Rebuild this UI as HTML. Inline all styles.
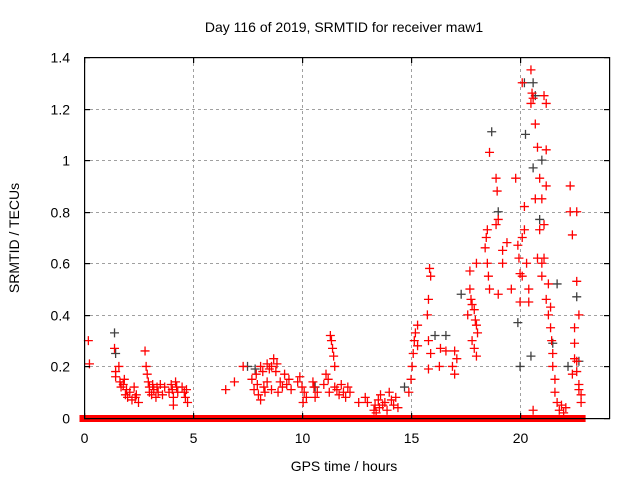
<!DOCTYPE html>
<html><head><meta charset="utf-8"><style>
body{margin:0;background:#fff}
svg text{font-family:"Liberation Sans",sans-serif;font-size:14px;fill:#000}
</style></head><body>
<svg id="c" width="640" height="480">
<g id="marks"></g>
<g id="axes"></g>
</svg>
<script>
const xTicks=[0,5,10,15,20];
const yTicks=[0,0.2,0.4,0.6,0.8,1,1.2,1.4];
const yTickLabels=["0","0.2","0.4","0.6","0.8","1","1.2","1.4"];
const redT=[0.2,0.25,1.4,1.45,1.45,1.6,1.65,1.7,1.8,1.85,1.9,1.95,2.0,2.1,2.2,2.3,2.35,2.4,2.5,
2.8,2.85,2.9,2.95,3.0,3.0,3.1,3.15,3.2,3.3,3.35,3.4,3.5,3.6,3.7,
3.9,4.0,4.05,4.1,4.2,4.25,4.3,4.1,4.5,4.6,4.65,4.7,4.75,6.5,6.9,7.3,
7.7,7.8,7.9,7.95,8.0,8.1,8.1,8.2,8.25,8.3,8.4,8.4,8.5,8.6,8.6,8.7,8.8,8.85,8.9,9.0,9.1,9.2,9.3,9.4,9.5,
9.8,9.9,10.0,10.05,10.1,10.2,10.5,10.55,10.6,10.7,
11.0,11.1,11.2,11.25,11.3,11.35,11.4,11.45,11.5,11.5,11.6,11.7,11.8,11.9,12.0,12.1,12.2,
12.6,12.9,13.0,13.3,13.35,13.4,13.5,13.55,13.6,13.7,13.8,13.9,14.0,14.1,14.2,14.3,14.4,
14.9,15.0,15.05,15.1,15.15,15.2,15.3,15.3,
15.85,15.9,15.8,15.75,15.8,15.9,15.8,16.3,16.35,16.6,17.0,17.1,17.0,16.9,
17.7,17.75,17.8,17.9,17.95,18.0,18.05,17.8,17.9,18.0,17.6,17.7,18.0,
18.4,18.45,18.5,18.55,18.6,18.6,18.5,18.9,18.95,18.9,19.0,19.2,19.4,19.2,19.0,
19.6,19.8,19.9,19.95,20.0,20.0,20.1,20.1,20.2,20.1,20.2,20.3,20.4,20.4,20.5,20.55,20.6,20.5,20.7,20.8,20.7,20.9,21.0,21.0,20.8,21.1,21.2,21.2,21.1,21.3,21.2,21.3,21.4,21.45,21.5,21.5,21.6,21.6,21.7,21.8,21.9,22.0,22.1,21.2,21.4,21.1,20.9,21.0,20.6,
22.3,22.3,22.4,22.5,22.6,22.5,22.6,22.6,22.7,22.7,22.8,22.8,22.4,22.5,22.6,22.7];
const redV=[0.30,0.21,0.27,0.18,0.16,0.2,0.14,0.12,0.13,0.15,0.09,0.11,0.08,0.1,0.07,0.12,0.08,0.09,0.06,
0.26,0.2,0.17,0.14,0.12,0.1,0.09,0.13,0.11,0.08,0.12,0.1,0.13,0.09,0.12,
0.1,0.13,0.11,0.08,0.14,0.12,0.1,0.05,0.12,0.1,0.08,0.11,0.06,0.11,0.14,0.2,
0.15,0.11,0.17,0.13,0.09,0.2,0.07,0.18,0.12,0.1,0.21,0.14,0.19,0.2,0.11,0.23,0.18,0.21,0.1,0.14,0.12,0.17,0.13,0.15,0.11,
0.14,0.16,0.12,0.06,0.1,0.08,0.14,0.12,0.08,0.1,
0.13,0.17,0.15,0.1,0.32,0.3,0.27,0.24,0.2,0.12,0.11,0.09,0.13,0.1,0.08,0.12,0.1,
0.06,0.08,0.06,0.03,0.05,0.02,0.07,0.04,0.09,0.05,0.06,0.03,0.1,0.07,0.05,0.08,0.04,
0.1,0.15,0.2,0.25,0.3,0.33,0.36,0.28,
0.58,0.55,0.46,0.4,0.3,0.25,0.19,0.2,0.27,0.26,0.26,0.23,0.17,0.2,
0.5,0.46,0.44,0.42,0.38,0.36,0.33,0.3,0.27,0.24,0.4,0.57,0.6,
0.66,0.7,0.6,0.55,0.5,1.03,0.73,0.93,0.88,0.75,0.77,0.65,0.68,0.6,0.48,
0.5,0.93,0.67,0.62,0.56,0.45,0.7,0.55,0.73,1.3,0.82,0.6,0.5,0.45,1.35,1.26,1.24,1.22,1.14,1.05,0.85,0.73,0.6,0.55,0.62,1.25,1.22,0.9,0.62,0.52,0.46,0.4,0.35,0.3,0.25,0.2,0.15,0.1,0.06,0.03,0.05,0.02,0.04,1.04,0.43,0.75,0.93,0.85,0.03,
0.9,0.8,0.71,0.35,0.8,0.29,0.22,0.18,0.13,0.11,0.09,0.06,0.17,0.23,0.53,0.4];
const blackT=[1.4,1.45,7.5,7.85,10.6,14.7,16.1,16.6,17.3,18.7,19.0,20.2,20.25,20.6,20.6,20.7,21.0,20.9,22.2,22.7,22.6,19.9,20.0,20.5,21.7,21.5];
const blackV=[0.33,0.25,0.2,0.19,0.12,0.12,0.32,0.32,0.48,1.11,0.8,1.3,1.1,0.97,1.3,1.25,1.0,0.77,0.2,0.22,0.47,0.37,0.2,0.24,0.52,0.29];
const zeroRanges=[[0,3.4],[3.55,5.5],[5.65,6.0],[6.1,6.5],[6.6,7.3],[7.45,9.5],[9.6,9.8],[9.9,10.6],[10.7,15.2],[15.3,16.3],[16.4,17.1],[17.2,18.1],[18.2,19.6],[19.7,20.6],[20.7,21.0],[21.1,21.3],[21.5,22.4],[22.5,22.8]];

const NS="http://www.w3.org/2000/svg";
const svg=document.getElementById('c');
const grp=document.getElementById('marks');
const axes=document.getElementById('axes');
const L=84,R=609,T=57,B=418,XMAX=24.08,YMAX=1.4;
const sx=t=>L+t/XMAX*(R-L), sy=v=>B-v/YMAX*(B-T);
function mk(tag,a,parent){const e=document.createElementNS(NS,tag);for(const k in a)e.setAttribute(k,a[k]);(parent||grp).appendChild(e);return e;}
function blk(x,y,w,h){const r=mk('rect',{x:x,y:y,width:w,height:h,fill:'#000000'},axes);
 
 }
// frame
blk(L,T,R-L+1,1.2);blk(L,B,R-L+1,1.2);blk(L,T,1.2,B-T+1);blk(R,T,1.2,B-T+1);
xTicks.forEach((t,i)=>{const xr=Math.round(sx(t)),x=xr+0.5;
 if(t>0){const g=mk('line',{x1:x,y1:T,x2:x,y2:B,style:'stroke:#a0a0a0;stroke-width:1;stroke-dasharray:3,3'});
 
 }
 blk(xr,B-5,1.2,6);blk(xr,T,1.2,6);
 const tx=mk('text',{x:x,y:443,'text-anchor':'middle'},svg);tx.textContent=t;
 
 });
yTicks.forEach((v,i)=>{const yr=Math.round(sy(v)),y=yr+0.5;
 if(v>0&&v<YMAX){const g=mk('line',{x1:L,y1:y,x2:R,y2:y,style:'stroke:#a0a0a0;stroke-width:1;stroke-dasharray:3,3'});
 
 }
 blk(L,yr,6,1.2);blk(R-5,yr,6,1.2);
 const tx=mk('text',{x:70,y:y+5,'text-anchor':'end'},svg);tx.textContent=yTickLabels[i];
 
 });
function plus(t,v,col,name){const x=sx(t),y=sy(v);
 const p=mk('path',{d:`M${x-4.5},${y}h9M${x},${y-4.5}v9`,style:`stroke:${col};stroke-width:1.3;fill:none`});
 
 }
zeroRanges.forEach(r=>{const z=mk('rect',{x:sx(r[0])-4.5,y:sy(0)-3,width:sx(r[1])-sx(r[0])+9,height:7,style:'fill:#f00'});
 
 });
blackT.forEach((t,i)=>plus(t,blackV[i],'#404040','black-point'));
redT.forEach((t,i)=>plus(t,redV[i],'#f00','red-point'));
const ti=mk('text',{x:344,y:32,'text-anchor':'middle'},svg);ti.textContent='Day 116 of 2019, SRMTID for receiver maw1';


const xl=mk('text',{x:344,y:471,'text-anchor':'middle'},svg);xl.textContent='GPS time / hours';


const yl=mk('text',{x:0,y:0,'text-anchor':'middle',transform:'translate(19,238) rotate(-90)'},svg);yl.textContent='SRMTID / TECUs';


</script>
</body></html>
